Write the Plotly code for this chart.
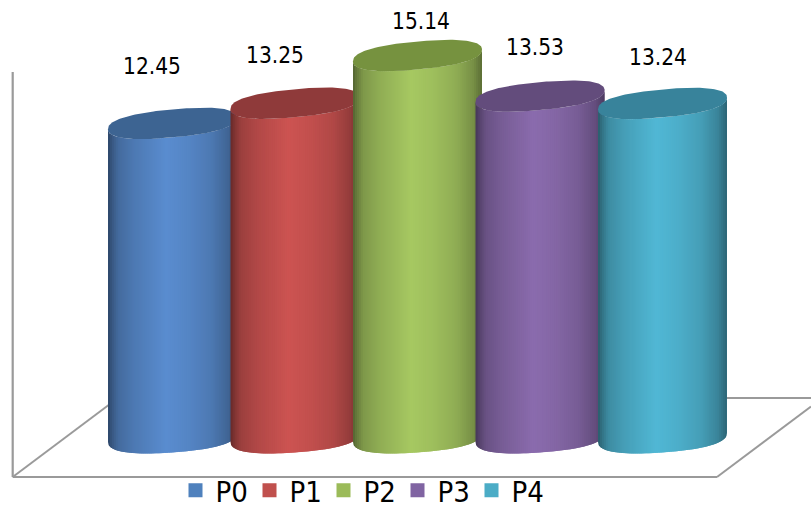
import numpy as np
import plotly.graph_objects as go

# Chart data
categories = ["P0", "P1", "P2", "P3", "P4"]
values = [12.45, 13.25, 15.14, 13.53, 13.24]
base_colors = ["#4f81bd", "#c0504d", "#9bbb59", "#8064a2", "#4bacc6"]
peak_colors = ["#5a8dd0", "#cd5452", "#a7c962", "#8b6cae", "#51b8d5"]
cap_colors = ["#3d6492", "#8f3a3a", "#76923f", "#634c7c", "#38839b"]

# Hand-placed label offsets from the top of each cylinder, in pixels
label_dx = [-20.5, -20.5, 3.0, -5.0, -4.5]
label_dy = [57, 48, 35, 49, 46]

# Canvas and scale
W, H = 811, 513
PX_PER_CAT = 122.5       # horizontal distance between cylinders
PX_PER_UNIT = 25.23      # vertical pixels per value unit
X0_PX = 172.5            # pixel position of the first category
Y0_PX = 437.5            # pixel position of value zero
RADIUS = 64.5            # cylinder half width, pixels
B_TOP = 14.0             # top ellipse minor half axis, pixels
B_BASE = 14.9            # base ellipse minor half axis, pixels
TILT_TOP = 5.8           # rise of the top ellipse, left to right
TILT_BASE = 4.5          # rise of the base ellipse, left to right
ROUNDNESS = 2.4          # superellipse exponent of the rims
N_STRIPS = 64

# Brightness across the cylinder face, from left edge to right edge
shade_pos = [0.0, 0.03, 0.08, 0.2, 0.45, 0.62, 0.8, 0.93, 1.0]
shade_val = [0.50, 0.62, 0.76, 0.86, 1.0, 0.95, 0.86, 0.72, 0.55]


def hex_rgb(c):
    return np.array([int(c[i:i + 2], 16) for i in (1, 3, 5)], dtype=float)


def rim_half(u, b):
    """Half height of a rim at u in [-1, 1], pixels."""
    return b * np.clip(1 - np.abs(u) ** ROUNDNESS, 0, 1) ** (1 / ROUNDNESS)


def front_edge(u, b, tilt):
    """Lower rim of a tilted ellipse in value units."""
    return (tilt * u - rim_half(u, b)) / PX_PER_UNIT


def back_edge(u, b, tilt):
    """Upper rim of a tilted ellipse in value units."""
    return (tilt * u + rim_half(u, b)) / PX_PER_UNIT


fig = go.Figure()

for i, (name, val) in enumerate(zip(categories, values)):
    half = RADIUS / PX_PER_CAT
    peak = hex_rgb(peak_colors[i])
    edges = np.linspace(-1, 1, N_STRIPS + 1)
    for k in range(N_STRIPS):
        # Each strip runs one step past its right edge so no seams show between strips
        hi = min(k + 2, N_STRIPS)
        u = np.linspace(edges[k], edges[hi], 8)
        mid = (edges[k] + edges[k + 1]) / 4 + 0.5
        rgb = np.clip(peak * np.interp(mid, shade_pos, shade_val), 0, 255).astype(int)
        xs = i + u * half
        ys_top = val + front_edge(u, B_TOP, TILT_TOP)
        ys_base = front_edge(u, B_BASE, TILT_BASE)
        fig.add_trace(go.Scatter(
            x=np.r_[xs, xs[::-1]],
            y=np.r_[ys_top, ys_base[::-1]],
            mode="lines", fill="toself", line=dict(width=0),
            fillcolor=f"rgb({rgb[0]},{rgb[1]},{rgb[2]})",
            showlegend=False, hoverinfo="skip",
        ))
    # Top face of the cylinder
    cu = -np.cos(np.linspace(0, np.pi, 80))
    fig.add_trace(go.Scatter(
        x=i + np.r_[cu, cu[::-1]] * half,
        y=val + np.r_[back_edge(cu, B_TOP, TILT_TOP), front_edge(cu[::-1], B_TOP, TILT_TOP)],
        mode="lines", fill="toself", line=dict(width=0),
        fillcolor=cap_colors[i], showlegend=False, hoverinfo="skip",
    ))

# Legend swatches
for name, color in zip(categories, base_colors):
    fig.add_trace(go.Scatter(
        x=[None], y=[None], mode="markers", name=name,
        marker=dict(symbol="square", size=14, color=color),
    ))

# Value labels
annotations = [
    dict(x=i, y=v, xref="x", yref="y", text=f"{v:.2f}", showarrow=False,
         xshift=label_dx[i], yshift=label_dy[i],
         font=dict(size=22.5, color="#000000",
                   family="DejaVu Sans Condensed, Noto Sans, sans-serif"))
    for i, v in enumerate(values)
]


def frame_line(x0, y0, x1, y1, width=2.2):
    return dict(type="line", xref="paper", yref="paper", layer="below",
                x0=x0 / W, y0=1 - y0 / H, x1=x1 / W, y1=1 - y1 / H,
                line=dict(color="#9a9a9a", width=width))


# Walls and floor of the 3D frame
shapes = [
    frame_line(12.7, 72, 12.7, 477),
    frame_line(12.7, 477, 717, 477),
    frame_line(12.7, 477, 110, 404, 2),
    frame_line(717, 477, 811, 406.5, 2),
    frame_line(720, 398, 811, 398),
]

fig.update_layout(
    width=W, height=H,
    margin=dict(l=0, r=0, t=0, b=0, autoexpand=False),
    paper_bgcolor="#ffffff", plot_bgcolor="#ffffff",
    xaxis=dict(range=[-X0_PX / PX_PER_CAT, (W - X0_PX) / PX_PER_CAT], visible=False, fixedrange=True),
    yaxis=dict(range=[(Y0_PX - H) / PX_PER_UNIT, Y0_PX / PX_PER_UNIT], visible=False, fixedrange=True),
    shapes=shapes,
    annotations=annotations,
    showlegend=True,
    legend=dict(
        orientation="h", x=175.5 / W, y=-3 / H, xanchor="left", yanchor="bottom",
        entrywidth=29, entrywidthmode="pixels", itemwidth=30,
        tracegroupgap=0, bgcolor="rgba(0,0,0,0)",
        font=dict(size=29, color="#000000",
                  family="DejaVu Sans Condensed, Noto Sans, sans-serif"),
    ),
)

fig.write_html("out.html", config=dict(displayModeBar=False))
